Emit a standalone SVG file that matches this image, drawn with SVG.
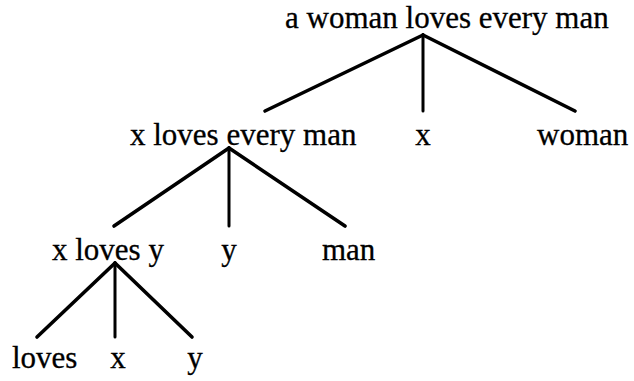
<svg xmlns="http://www.w3.org/2000/svg" width="634" height="381" viewBox="0 0 634 381">
<style>
text{font-family:"Liberation Serif","Times New Roman",Times,serif;font-size:31px;fill:#000;stroke:#000;stroke-width:0.3}
.m{text-anchor:middle}
line{stroke:#000;stroke-width:3.6;stroke-linecap:round}
line.v{stroke-width:3}
</style>
<rect width="634" height="381" fill="#fff"/>
<g id="connectors">
<line x1="423" y1="35" x2="265" y2="111"/>
<line class="v" x1="423" y1="35" x2="423" y2="111"/>
<line x1="423" y1="35" x2="575" y2="111"/>
<line x1="229" y1="148" x2="114" y2="226"/>
<line class="v" x1="229" y1="148" x2="229" y2="226"/>
<line x1="229" y1="148" x2="345" y2="226"/>
<line x1="115" y1="263" x2="37" y2="337"/>
<line class="v" x1="115" y1="263" x2="115" y2="337"/>
<line x1="115" y1="263" x2="192" y2="337"/>
</g>
<g id="n-root"><text x="285" y="28">a woman loves every man</text></g>
<g id="n-xlem"><text x="130" y="145">x loves every man</text></g>
<g id="n-x1"><text class="m" x="423" y="145">x</text></g>
<g id="n-woman"><text x="537" y="145">woman</text></g>
<g id="n-xly"><text x="52" y="260">x loves y</text></g>
<g id="n-y1"><text class="m" x="229" y="260">y</text></g>
<g id="n-man"><text x="322" y="260">man</text></g>
<g id="n-loves"><text x="12" y="368">loves</text></g>
<g id="n-x2"><text class="m" x="118" y="368">x</text></g>
<g id="n-y2"><text class="m" x="195" y="368">y</text></g>
</svg>
